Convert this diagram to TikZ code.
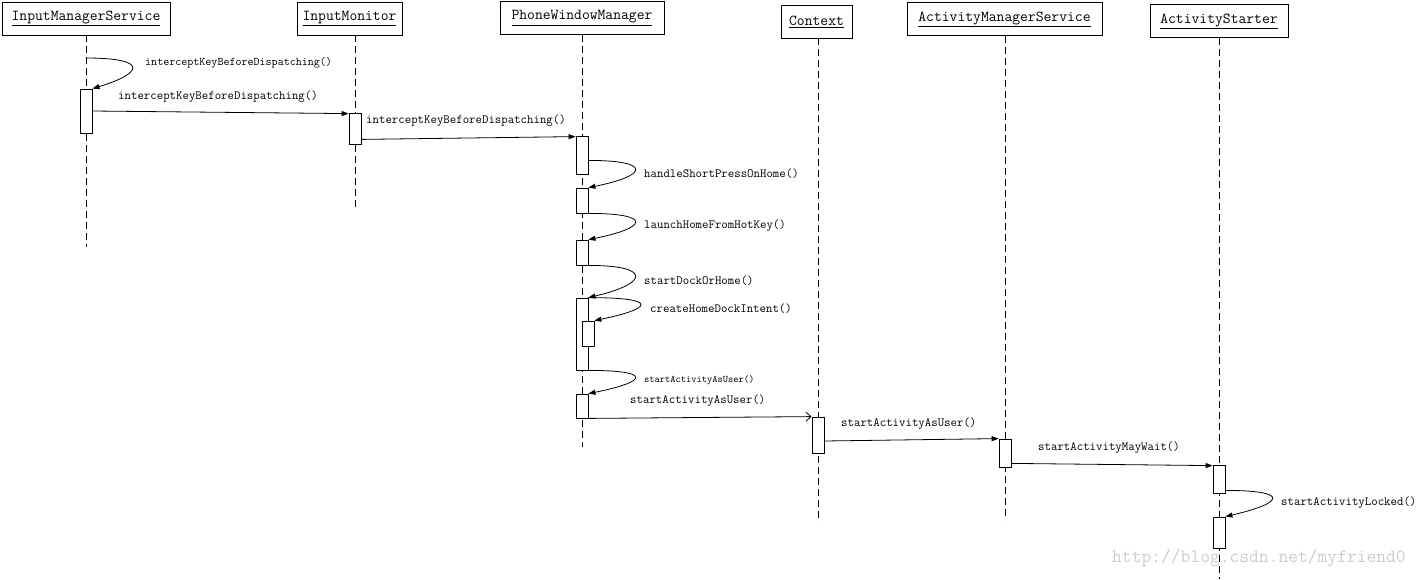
\documentclass[tikz,border=0pt]{standalone}
\usetikzlibrary{arrows.meta,calc}
\begin{document}
\begin{tikzpicture}[x=1pt,y=-1pt,
 hdr/.style={draw, line width=1pt, inner sep=0, minimum height=33pt, font=\ttfamily\fontsize{15.2}{17}\selectfont},
 life/.style={dash pattern=on 7pt off 4pt, line width=0.8pt},
 act/.style={draw, fill=white, line width=0.8pt, inner sep=0, minimum width=12pt},
 msg/.style={line width=0.8pt, -{Triangle[length=7pt,width=5pt]}},
 omsg/.style={line width=0.8pt, -{Straight Barb[length=5pt,width=9pt]}},
 lbl/.style={anchor=west, inner sep=0, font=\ttfamily\fontsize{12.5}{14}\selectfont},
]
\useasboundingbox (0,0) rectangle (1422,579);
% headers
\node[hdr, minimum width=168pt] (imsH) at (86,18.5) {\underline{InputManagerService}};
\node[hdr, minimum width=105pt] (imH) at (349.5,18.5) {\underline{InputMonitor}};
\node[hdr, minimum width=164pt] (pwmH) at (582,18) {\underline{PhoneWindowManager}};
\node[hdr, minimum width=71pt] (ctxH) at (816.5,21.5) {\underline{Context}};
\node[hdr, minimum width=195pt] (amsH) at (1004.5,19) {\underline{ActivityManagerService}};
\node[hdr, minimum width=138pt] (asH) at (1219,21) {\underline{ActivityStarter}};
% lifelines
\coordinate (imsT) at (86,35);   \coordinate (imsE) at (86,247);
\coordinate (imT) at (355,35);   \coordinate (imE) at (355,208);
\coordinate (pwmT) at (582,35);  \coordinate (pwmE) at (582,447);
\coordinate (ctxT) at (818,38);  \coordinate (ctxE) at (818,522);
\coordinate (amsT) at (1005,36); \coordinate (amsE) at (1005,520);
\coordinate (asT) at (1219,38);  \coordinate (asE) at (1219,579);
\foreach \a in {ims,im,pwm,ctx,ams,as} \draw[life] (\a T) -- (\a E);
% activations
\node[act, minimum height=44pt] (imsA) at (86,111) {};
\node[act, minimum height=31pt] (imA) at (355,128.5) {};
\node[act, minimum height=38pt] (pwmA1) at (582,155) {};
\node[act, minimum height=25pt] (pwmA2) at (582,200.5) {};
\node[act, minimum height=25pt] (pwmA3) at (582,252.5) {};
\node[act, minimum height=72pt] (pwmA4) at (582,334) {};
\node[act, minimum height=25pt] (pwmA4n) at (588,333.5) {};
\node[act, minimum height=24pt] (pwmA5) at (582,406) {};
\node[act, minimum height=36pt] (ctxA) at (818,435) {};
\node[act, minimum height=28pt] (amsA) at (1005,453) {};
\node[act, minimum height=28pt] (asA1) at (1219,479) {};
\node[act, minimum height=31pt] (asA2) at (1219,532.5) {};
% messages
\coordinate (imsS) at (86,58);
\draw[msg] (imsS) .. controls +(64,0) and +(50,-15) .. (imsA.north east);
\draw[msg] (imsA.east) -- ($(imA.north west)+(0,1)$);
\draw[msg] ($(imA.south east)+(0,-5)$) -- ($(pwmA1.north west)+(0,1)$);
\draw[msg] ($(pwmA1.south east)+(0,-14)$) .. controls +(64,0) and +(60,-12) .. (pwmA2.north east);
\draw[msg] (pwmA2.south east) .. controls +(64,0) and +(60,-12) .. (pwmA3.north east);
\draw[msg] (pwmA3.south east) .. controls +(64,0) and +(60,-14) .. (pwmA4.north east);
\draw[msg] (pwmA4.north east) .. controls +(72,0) and +(58,-12) .. (pwmA4n.north east);
\draw[msg] (pwmA4.south east) .. controls +(64,0) and +(60,-12) .. (pwmA5.north east);
\draw[omsg] (pwmA5.south east) -- (ctxA.north west);
\draw[msg] ($(ctxA.east)+(0,6)$) -- (amsA.north west);
\draw[msg] ($(amsA.south east)+(0,-4)$) -- ($(asA1.north west)+(0,1)$);
\draw[msg] ($(asA1.south east)+(0,-3)$) .. controls +(64,0) and +(60,-14) .. (asA2.north east);
% labels
\node[lbl, font=\ttfamily\fontsize{11.7}{13}\selectfont] (l1) at (145,63) {interceptKeyBeforeDispatching()};
\node[lbl] (l2) at (118,97) {interceptKeyBeforeDispatching()};
\node[lbl] (l3) at (366,121) {interceptKeyBeforeDispatching()};
\node[lbl] (l4) at (644,174) {handleShortPressOnHome()};
\node[lbl] (l5) at (644,226) {launchHomeFromHotKey()};
\node[lbl] (l6) at (644,281) {startDockOrHome()};
\node[lbl] (l7) at (650,309) {createHomeDockIntent()};
\node[lbl, font=\ttfamily\fontsize{10}{11}\selectfont] (l8) at (644,380) {startActivityAsUser()};
\node[lbl] (l9) at (630,401) {startActivityAsUser()};
\node[lbl] (l10) at (841,424) {startActivityAsUser()};
\node[lbl] (l11) at (1038,448) {startActivityMayWait()};
\node[lbl] (l12) at (1281,503) {startActivityLocked()};
\node[lbl, text=gray!40, font=\ttfamily\fontsize{19}{21}\selectfont] (wm) at (1112,558) {http://blog.csdn.net/myfriend0};
\end{tikzpicture}
\end{document}
